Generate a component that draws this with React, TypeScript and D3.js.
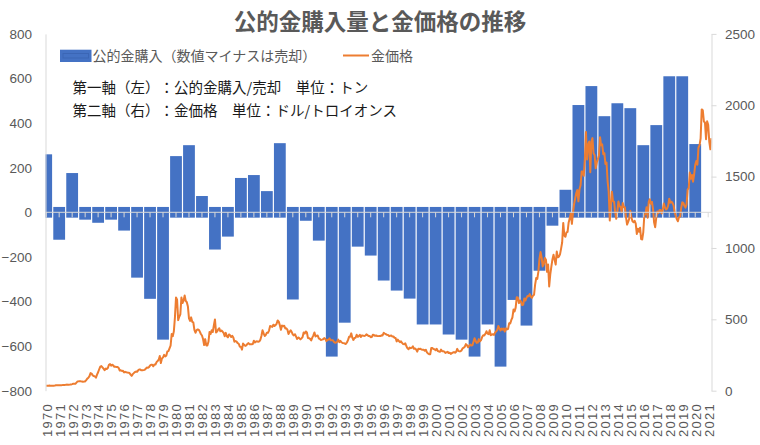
import React, { useEffect, useRef } from 'react';
import * as d3 from 'd3';

// categories (years) shown on the x axis
const years = [
  1970, 1971, 1972, 1973, 1974, 1975, 1976, 1977, 1978, 1979,
  1980, 1981, 1982, 1983, 1984, 1985, 1986, 1987, 1988, 1989,
  1990, 1991, 1992, 1993, 1994, 1995, 1996, 1997, 1998, 1999,
  2000, 2001, 2002, 2003, 2004, 2005, 2006, 2007, 2008, 2009,
  2010, 2011, 2012, 2013, 2014, 2015, 2016, 2017, 2018, 2019,
  2020, 2021,
];

// official sector gold purchases (tonnes, negative = sales), 1970 - 2020
const purchases = [
  260, -123, 176, -33, -47, -33, -82, -293, -388, -571,
  252, 301, 73, -167, -109, 154, 167, 95, 310, -391,
  -38, -127, -647, -495, -154, -194, -306, -351, -387, -503,
  -503, -548, -571, -647, -503, -692, -393, -508, -262, -60,
  101, 481, 566, 431, 489, 467, 301, 391, 610, 610,
  306,
];

// gold price (USD / troy oz), month end, from Jan 1970
const goldStart = 1970;
const goldPrice = [
  34.9, 35.0, 35.1, 35.6, 35.5, 35.4, 35.3, 35.4, 36.2, 37.5, 37.4, 37.4,
  38.0, 38.7, 38.9, 39.5, 40.5, 40.1, 41.0, 42.7, 42.0, 42.5, 42.9, 43.5,
  45.8, 48.3, 48.3, 49.0, 57.0, 65.1, 65.7, 67.0, 65.5, 64.8, 62.9, 63.9,
  65.1, 74.2, 84.4, 90.5, 102.0, 123.3, 120.0, 106.8, 103.0, 100.1, 90.8, 112.3,
  129.2, 150.2, 168.4, 172.2, 163.3, 154.1, 143.0, 154.6, 151.8, 158.8, 181.7, 186.5,
  175.8, 181.8, 177.8, 167.0, 167.0, 166.3, 166.7, 159.8, 141.3, 142.9, 138.2, 139.3,
  128.2, 132.3, 128.8, 127.3, 126.5, 123.8, 112.5, 104.0, 116.0, 123.2, 130.3, 134.5,
  132.3, 142.8, 148.9, 147.8, 143.0, 143.0, 144.1, 146.0, 154.1, 162.0, 160.5, 165.0,
  175.8, 182.3, 181.6, 170.9, 184.2, 183.1, 200.3, 208.1, 217.1, 242.6, 193.4, 226.0,
  233.7, 251.3, 240.1, 245.3, 274.6, 277.5, 296.5, 315.1, 397.3, 382.0, 415.7, 512.0,
  653.0, 637.0, 494.5, 518.0, 535.5, 653.0, 614.3, 631.3, 666.8, 629.0, 619.8, 589.8,
  506.5, 489.0, 513.8, 482.8, 479.3, 426.0, 406.0, 425.0, 428.8, 427.0, 414.5, 397.5,
  387.0, 362.6, 320.0, 361.3, 317.5, 317.5, 342.8, 411.5, 397.0, 423.3, 411.3, 456.9,
  499.5, 408.5, 414.8, 429.3, 437.5, 416.0, 422.0, 414.3, 405.0, 382.0, 405.0, 381.5,
  373.8, 394.3, 388.8, 375.8, 384.3, 373.1, 342.4, 348.3, 343.8, 333.5, 329.0, 309.0,
  306.7, 287.8, 330.5, 321.4, 314.0, 317.8, 327.5, 333.3, 326.0, 325.1, 324.8, 326.8,
  350.5, 338.3, 344.8, 345.8, 342.8, 345.5, 357.5, 384.7, 423.5, 401.5, 383.5, 390.9,
  405.5, 405.9, 421.3, 453.3, 451.0, 447.3, 462.5, 453.4, 459.5, 468.8, 492.5, 484.1,
  458.0, 426.2, 456.9, 451.5, 455.4, 436.6, 436.8, 427.8, 397.7, 412.4, 422.6, 410.3,
  394.0, 387.8, 395.3, 378.5, 362.6, 373.0, 368.3, 359.8, 366.5, 375.3, 408.2, 401.0,
  415.1, 407.7, 368.5, 367.8, 363.1, 352.2, 372.3, 387.8, 408.4, 379.5, 384.9, 386.2,
  366.0, 362.7, 355.7, 357.8, 360.4, 368.4, 362.9, 347.4, 354.9, 357.5, 366.3, 353.2,
  354.1, 353.1, 341.7, 336.4, 337.5, 343.4, 357.8, 340.0, 349.0, 339.3, 334.2, 333.3,
  330.5, 327.6, 337.8, 354.3, 377.5, 378.5, 401.8, 371.6, 355.5, 369.6, 370.9, 391.8,
  377.9, 381.6, 391.3, 376.5, 387.6, 385.8, 383.9, 385.8, 394.9, 389.1, 383.1, 383.3,
  374.9, 376.4, 392.0, 389.8, 384.6, 387.1, 383.4, 382.4, 384.0, 382.7, 387.8, 387.0,
  405.6, 400.7, 396.4, 391.3, 390.6, 382.0, 385.3, 386.5, 379.0, 379.5, 371.3, 369.3,
  345.5, 358.6, 348.2, 340.2, 345.6, 334.6, 326.4, 325.4, 332.1, 311.4, 296.8, 290.2,
  302.1, 298.3, 301.0, 310.7, 293.6, 296.3, 288.9, 273.4, 293.9, 292.3, 294.7, 287.8,
  287.1, 287.3, 279.5, 286.6, 268.6, 261.0, 255.6, 254.8, 299.0, 299.1, 291.4, 290.3,
  283.3, 293.7, 278.4, 275.1, 272.3, 288.2, 276.8, 277.0, 273.7, 264.5, 269.1, 272.7,
  264.5, 266.7, 257.7, 263.2, 267.5, 270.6, 265.9, 273.0, 293.1, 278.8, 275.5, 276.5,
  282.3, 296.9, 301.4, 308.2, 326.6, 318.5, 304.7, 312.8, 323.7, 316.9, 317.7, 342.8,
  367.5, 347.5, 334.9, 336.8, 361.4, 346.0, 354.8, 375.6, 388.0, 386.3, 398.4, 416.3,
  399.8, 395.9, 423.7, 388.5, 393.3, 395.8, 391.4, 407.3, 415.7, 425.6, 453.4, 435.6,
  422.2, 435.5, 427.5, 435.7, 414.5, 437.1, 429.0, 433.3, 473.3, 470.8, 495.7, 513.0,
  568.8, 556.0, 582.0, 654.5, 653.0, 613.5, 632.5, 623.5, 599.3, 603.8, 646.7, 632.0,
  650.5, 664.2, 661.8, 677.0, 659.1, 650.5, 665.5, 672.0, 743.0, 789.5, 783.5, 833.8,
  923.3, 971.5, 933.5, 871.0, 885.8, 930.3, 918.0, 833.0, 884.5, 730.8, 814.5, 869.8,
  919.5, 952.0, 916.5, 883.3, 975.5, 934.5, 939.0, 955.5, 995.8, 1040.0, 1175.8, 1087.5,
  1078.5, 1109.5, 1113.3, 1179.3, 1207.5, 1244.0, 1169.0, 1246.0, 1307.0, 1346.8, 1383.5, 1405.5,
  1327.0, 1411.0, 1439.0, 1535.5, 1536.5, 1505.5, 1628.5, 1813.5, 1620.0, 1722.0, 1746.0, 1531.0,
  1744.0, 1770.0, 1662.5, 1651.3, 1558.0, 1598.5, 1622.0, 1648.5, 1776.0, 1719.0, 1726.0, 1657.5,
  1664.8, 1588.5, 1598.3, 1469.0, 1394.5, 1192.0, 1314.5, 1394.8, 1326.5, 1324.0, 1253.0, 1204.5,
  1251.0, 1326.5, 1291.8, 1288.5, 1250.5, 1315.0, 1285.8, 1285.8, 1216.5, 1164.3, 1182.8, 1206.0,
  1260.3, 1214.0, 1187.0, 1180.3, 1190.6, 1171.0, 1098.4, 1135.0, 1114.0, 1142.4, 1061.9, 1060.0,
  1111.8, 1234.9, 1237.0, 1285.7, 1212.1, 1320.8, 1342.0, 1309.3, 1322.5, 1272.0, 1178.1, 1145.9,
  1212.8, 1255.6, 1244.9, 1266.4, 1266.2, 1242.3, 1267.6, 1311.8, 1283.1, 1270.2, 1275.3, 1296.5,
  1345.1, 1317.9, 1323.9, 1315.3, 1298.4, 1250.5, 1224.3, 1201.5, 1187.3, 1214.8, 1220.3, 1279.0,
  1319.8, 1316.1, 1295.4, 1283.1, 1305.6, 1409.0, 1419.9, 1528.4, 1485.3, 1510.9, 1464.6, 1514.8,
  1582.5, 1609.9, 1583.4, 1702.8, 1719.9, 1768.1, 1971.0, 1964.9, 1886.9, 1879.9, 1762.4, 1887.6,
  1863.4, 1743.3, 1691.1, 1769.1,
];

const leftTicks = [-800, -600, -400, -200, 0, 200, 400, 600, 800];
const rightTicks = [0, 500, 1000, 1500, 2000, 2500];

const title = '公的金購入量と金価格の推移';
const legendBar = '公的金購入（数値マイナスは売却）';
const legendLine = '金価格';
const note1 = '第一軸（左）：公的金購入/売却　単位：トン';
const note2 = '第二軸（右）：金価格　単位：ドル/トロイオンス';

const JP = '"Noto Sans CJK JP", "Noto Sans", sans-serif';
const NUM = '"Liberation Sans", Arial, sans-serif';
const NO_TRIM = 'text-spacing-trim: space-all';

const GoldChart: React.FC = () => {
  const ref = useRef<SVGSVGElement | null>(null);

  useEffect(() => {
    if (!ref.current) return;
    const svg = d3.select(ref.current);
    svg.selectAll('*').remove();

    const plot = { left: 45.5, right: 711.5, top: 33.9, bottom: 390.7 };
    const x = d3.scaleLinear().domain([1970, 2021]).range([46.2, 708.2]);
    const yL = d3.scaleLinear().domain([-800, 800]).range([plot.bottom, plot.top]);
    const yR = d3.scaleLinear().domain([0, 2500]).range([plot.bottom, plot.top]);
    const barW = 11.8;
    const band = 24; // bars always cover a small band around zero, as in the original

    svg.append('rect').attr('width', 760).attr('height', 445).attr('fill', '#fff');

    svg.append('defs').append('clipPath').attr('id', 'plotClip')
      .append('rect')
      .attr('x', plot.left).attr('y', plot.top - 2)
      .attr('width', plot.right - plot.left).attr('height', plot.bottom - plot.top + 4);

    // title
    svg.append('text')
      .attr('x', 380).attr('y', 30)
      .attr('text-anchor', 'middle')
      .attr('font-family', JP).attr('font-size', 22.5).attr('font-weight', 'bold')
      .attr('fill', '#595959')
      .attr('style', NO_TRIM)
      .text(title);

    // bars
    const g = svg.append('g').attr('clip-path', 'url(#plotClip)');
    g.selectAll('.bar')
      .data(purchases)
      .enter().append('rect')
      .attr('class', 'bar')
      .attr('x', (d, i) => x(years[i]) - barW / 2)
      .attr('y', d => yL(Math.max(d, band)))
      .attr('width', barW)
      .attr('height', d => yL(Math.min(d, -band)) - yL(Math.max(d, band)))
      .attr('fill', '#4472C4');

    // zero axis line + ticks
    const y0 = yL(0);
    svg.append('line')
      .attr('x1', plot.left).attr('x2', plot.right)
      .attr('y1', y0).attr('y2', y0)
      .attr('stroke', '#d9d9d9').attr('stroke-width', 1);
    svg.selectAll('.xtick')
      .data(years)
      .enter().append('line')
      .attr('class', 'xtick')
      .attr('x1', d => x(d)).attr('x2', d => x(d))
      .attr('y1', y0).attr('y2', y0 + 5)
      .attr('stroke', '#d9d9d9').attr('stroke-width', 1);

    // gold price line
    const line = d3.line<number>()
      .x((d, i) => x(goldStart + i / 12))
      .y(d => yR(d));
    g.append('path')
      .datum(goldPrice)
      .attr('d', line)
      .attr('fill', 'none')
      .attr('stroke', '#ED7D31')
      .attr('stroke-width', 2)
      .attr('stroke-linejoin', 'round');

    // left axis
    const la = svg.append('g')
      .attr('transform', `translate(${plot.left},0)`)
      .call(d3.axisLeft(yL).tickValues(leftTicks).tickSize(0).tickPadding(13.5).tickFormat(d3.format('d')));
    la.select('.domain').attr('stroke', '#d9d9d9');
    la.selectAll('text')
      .attr('font-family', NUM).attr('font-size', 13.5).attr('fill', '#595959');

    // right axis
    const ra = svg.append('g')
      .attr('transform', `translate(${plot.right},0)`)
      .call(d3.axisRight(yR).tickValues(rightTicks).tickSizeInner(5).tickSizeOuter(0)
        .tickPadding(8.5).tickFormat(d3.format('d')));
    ra.select('.domain').attr('stroke', '#d9d9d9');
    ra.selectAll('line').attr('stroke', '#d9d9d9');
    ra.selectAll('text')
      .attr('font-family', NUM).attr('font-size', 13.5).attr('fill', '#595959');

    // x labels, rotated
    svg.selectAll('.xlab')
      .data(years)
      .enter().append('text')
      .attr('class', 'xlab')
      .attr('transform', d => `translate(${x(d) + 0.8},437) rotate(-90)`)
      .attr('dy', '0.35em')
      .attr('font-family', NUM).attr('font-size', 13)
      .attr('letter-spacing', 1.3)
      .attr('fill', '#595959')
      .text(d => String(d));

    // legend
    svg.append('rect')
      .attr('x', 60).attr('y', 49.7).attr('width', 31.5).attr('height', 12.3)
      .attr('fill', '#4472C4');
    svg.append('rect')
      .attr('x', 63).attr('y', 53.5).attr('width', 25.5).attr('height', 4.5)
      .attr('fill', 'none').attr('stroke', '#3b66b5').attr('stroke-width', 1);
    svg.append('text')
      .attr('x', 92.5).attr('y', 61)
      .attr('font-family', JP).attr('font-size', 14).attr('fill', '#595959')
      .attr('style', NO_TRIM)
      .text(legendBar);
    svg.append('line')
      .attr('x1', 343).attr('x2', 369).attr('y1', 55.5).attr('y2', 55.5)
      .attr('stroke', '#ED7D31').attr('stroke-width', 2);
    svg.append('text')
      .attr('x', 371).attr('y', 61)
      .attr('font-family', JP).attr('font-size', 14).attr('fill', '#595959')
      .text(legendLine);

    // notes
    svg.append('text')
      .attr('x', 72.5).attr('y', 93)
      .attr('font-family', JP).attr('font-size', 14.5).attr('fill', '#1a1a1a')
      .attr('style', NO_TRIM)
      .text(note1);
    svg.append('text')
      .attr('x', 72.5).attr('y', 116)
      .attr('font-family', JP).attr('font-size', 14.5).attr('fill', '#1a1a1a')
      .attr('style', NO_TRIM)
      .text(note2);
  }, []);

  return <svg width={760} height={445} ref={ref} style={{ display: 'block' }} />;
};

export default function App() {
  return (
    <div style={{ position: 'absolute', left: 0, top: 0, width: 760, height: 445 }}>
      <GoldChart />
    </div>
  );
}
